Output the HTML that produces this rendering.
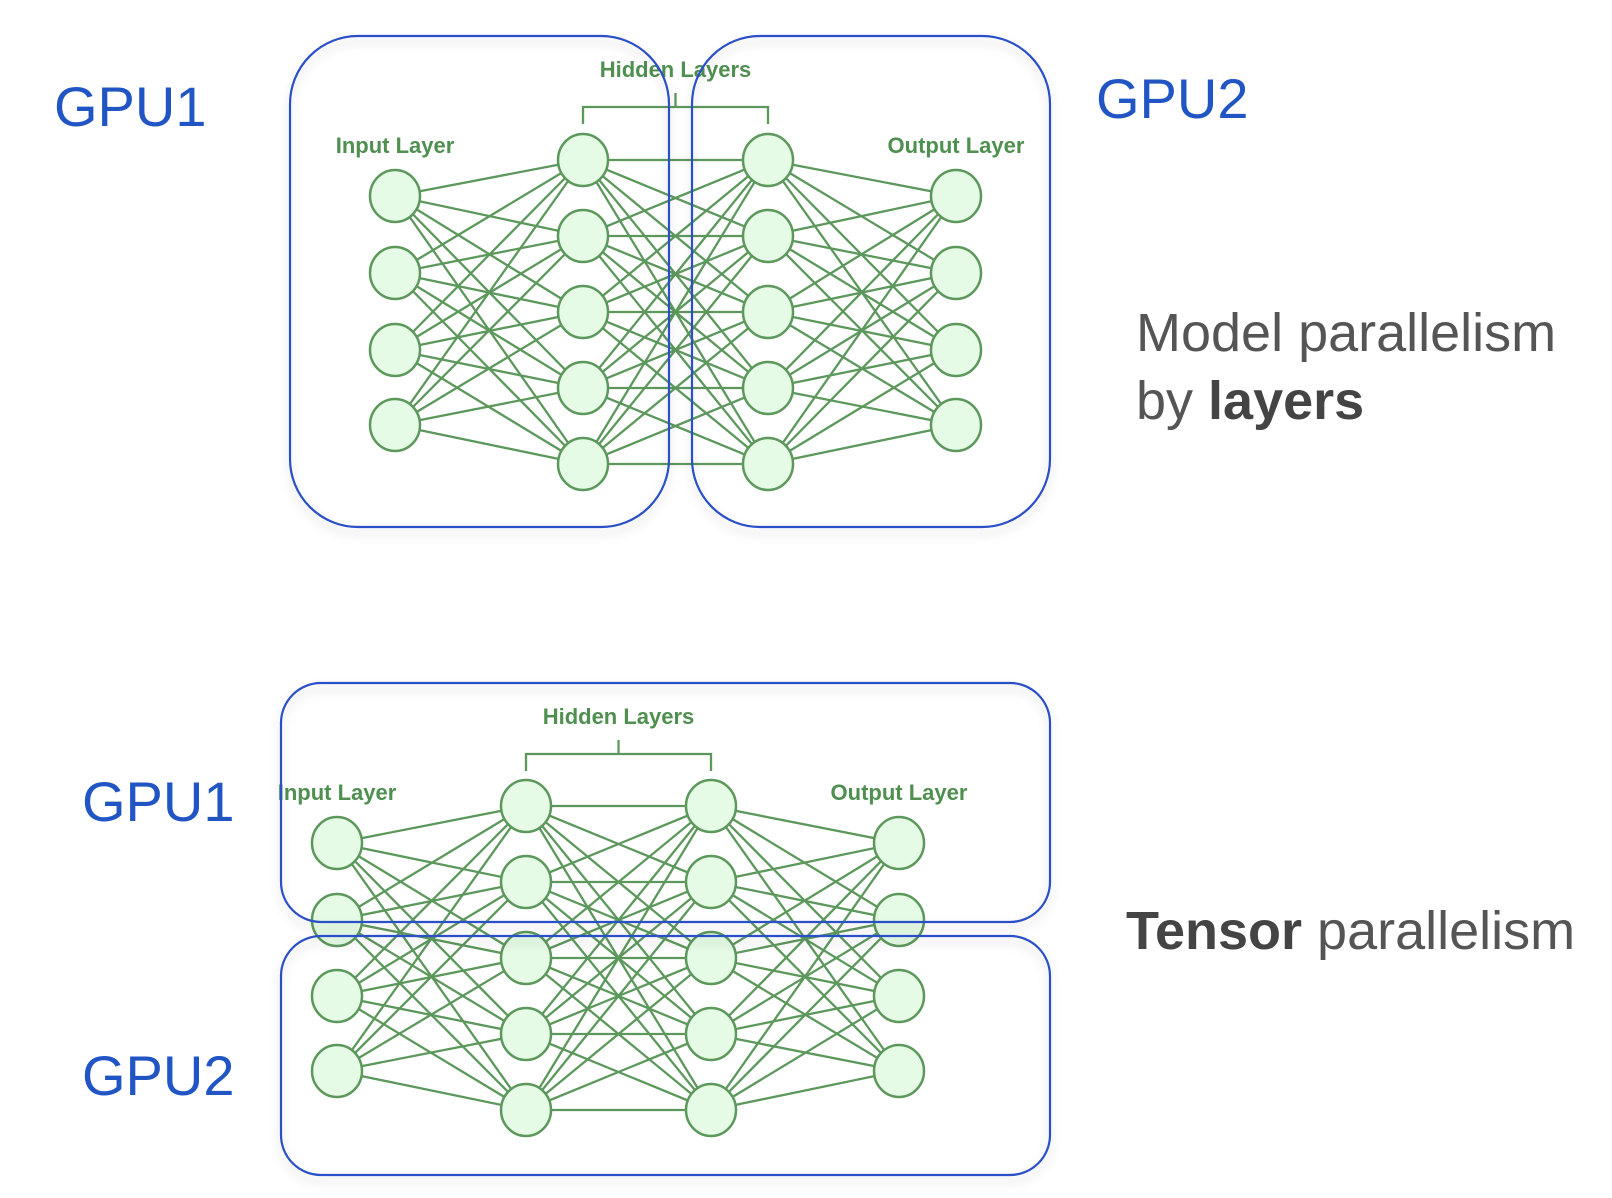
<!DOCTYPE html>
<html><head><meta charset="utf-8"><style>
html,body{margin:0;padding:0;background:#fff;width:1612px;height:1198px;overflow:hidden}
svg{display:block}
.g{font-family:"Liberation Sans",sans-serif;fill:#2255c4;font-size:56px}
.m{font-family:"Liberation Sans",sans-serif;fill:#555;font-size:54px}
.l{font-family:"Liberation Sans",sans-serif;fill:#4f8f4f;font-size:22px;font-weight:600}
</style></head><body>
<svg id="s" width="1612" height="1198" xmlns="http://www.w3.org/2000/svg">
<defs><filter id="sh" x="-5%" y="-5%" width="110%" height="110%"><feDropShadow dx="0" dy="6" stdDeviation="5" flood-color="#000" flood-opacity="0.18"/></filter></defs>
<g id="net"></g>
<g fill="none" stroke="#2a4fc6" stroke-width="2.2" filter="url(#sh)">
<rect x="290" y="36" width="379" height="491" rx="68"/>
<rect x="692" y="36" width="358" height="491" rx="68"/>
<rect x="281" y="683" width="769" height="239" rx="40"/>
<rect x="281" y="936" width="769" height="239" rx="40"/>
</g>
<text class="g" x="54" y="126">GPU1</text>
<text class="g" x="1096" y="118">GPU2</text>
<text class="g" x="82" y="821">GPU1</text>
<text class="g" x="82" y="1095">GPU2</text>
<text class="m" x="1136" y="351">Model parallelism</text>
<text class="m" x="1136" y="419">by <tspan font-weight="bold" fill="#444">layers</tspan></text>
<text class="m" x="1126" y="949"><tspan font-weight="bold" fill="#444">Tensor</tspan> parallelism</text>
</svg>
<script>
var NS="http://www.w3.org/2000/svg",g=document.getElementById("net");
function el(t,a){var e=document.createElementNS(NS,t);for(var k in a)e.setAttribute(k,a[k]);g.appendChild(e);return e;}
function txt(x,y,s){var e=el("text",{x:x,y:y,"text-anchor":"middle","class":"l"});e.textContent=s;}
function net(xs,ys4,ys5,ly,by){
 var L=[[xs[0],ys4],[xs[1],ys5],[xs[2],ys5],[xs[3],ys4]];
 for(var i=0;i<3;i++)L[i][1].forEach(function(a){L[i+1][1].forEach(function(b){
  el("line",{x1:L[i][0],y1:a,x2:L[i+1][0],y2:b,stroke:"#5c985c","stroke-width":2.3});});});
 L.forEach(function(l){l[1].forEach(function(y){el("ellipse",{cx:l[0],cy:y,rx:25,ry:26,fill:"#e5fbe5",stroke:"#5c985c","stroke-width":2.5});});});
 txt(xs[0],ly,"Input Layer");txt(xs[3],ly,"Output Layer");
 var mid=(xs[1]+xs[2])/2;
 txt(mid,by-30,"Hidden Layers");
 el("path",{d:"M"+xs[1]+" "+(by+17)+"V"+by+"H"+xs[2]+"V"+(by+17)+"M"+mid+" "+by+"V"+(by-14),fill:"none",stroke:"#5c985c","stroke-width":2.3});
}
net([395,583,768,956],[196,273,350,425],[160,236,312,388,464],153,107);
net([337,526,711,899],[843,920,996,1071],[806,882,958,1034,1110],800,754);
</script>
</body></html>
